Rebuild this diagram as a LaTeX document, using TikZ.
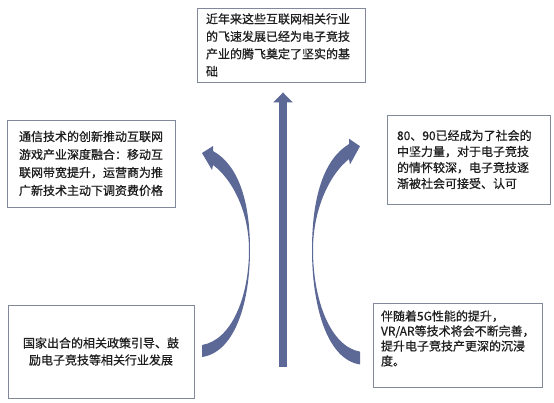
\documentclass[tikz,border=0pt]{standalone}
\usepackage{fontspec}
\setmainfont{Noto Sans CJK SC}[FakeBold=0.6]
\usetikzlibrary{arrows.meta}
\definecolor{arrowblue}{RGB}{92,104,150}
\definecolor{boxline}{RGB}{128,136,154}
\definecolor{txt}{RGB}{30,30,30}
\tikzset{
  box/.style={draw=boxline, line width=0.9pt, fill=white, inner sep=0pt, text=txt},
}
\begin{document}
\begin{tikzpicture}[x=1pt,y=-1pt]
  \useasboundingbox (0,0) rectangle (554,402);
  \draw
    (281,45) node[box, minimum width=168pt, minimum height=74pt, text width=150pt, align=left,
      font=\fontsize{12}{17.5}\selectfont] (0)
      {近年来这些互联网相关行业\\的飞速发展已经为电子竞技\\产业的腾飞奠定了坚实的基\\础}
    (91,163.5) node[box, minimum width=168pt, minimum height=87pt, text width=150pt, align=center,
      font=\fontsize{12}{18}\selectfont] (1)
      {通信技术的创新推动互联网\\游戏产业深度融合：移动互\\联网带宽提升，运营商为推\\广新技术主动下调资费价格}
    (468.5,159.5) node[box, minimum width=163pt, minimum height=89pt, text width=143pt, align=left,
      font=\fontsize{12}{16}\selectfont] (2)
      {80、90已经成为了社会的\\中坚力量，对于电子竞技\\的情怀较深，电子竞技逐\\渐被社会可接受、认可}
    (101,351.5) node[box, minimum width=186pt, minimum height=93pt, text width=170pt, align=center,
      font=\fontsize{12}{17}\selectfont] (3)
      {国家出合的相关政策引导、鼓\\励电子竞技等相关行业发展}
    (457.5,345) node[box, minimum width=169pt, minimum height=84pt, text width=153pt, align=left,
      font=\fontsize{12}{15}\selectfont] (4)
      {伴随着5G性能的提升，\\VR/AR等技术将会不断完善，\\提升电子竞技产更深的沉浸\\度。\rule[-14pt]{0pt}{14pt}};
  % straight arrow up to the top box
  \coordinate (c) at (283,367);
  \draw[arrowblue, line width=8pt, -{Triangle[width=19pt,length=10pt]}]
    (c) -- ([xshift=2pt,yshift=-10pt]0.south);
  % curved arrows
  \fill[arrowblue]
    (202,357) .. controls (236,352) and (250,300) .. (250,250)
    .. controls (250,200) and (238,165) .. (213,151)
    -- (213,146) -- (202,153) -- (212,170) -- (213,165)
    .. controls (231,178) and (249,210) .. (249,250)
    .. controls (249,296) and (232,340) .. (202,345) -- cycle;
  \begin{scope}[shift={(562,250)}, xscale=-1, yscale=1.07, shift={(0,-250)}]
    \fill[arrowblue]
      (202,357) .. controls (236,352) and (250,300) .. (250,250)
      .. controls (250,200) and (238,165) .. (213,151)
      -- (213,146) -- (202,153) -- (212,170) -- (213,165)
      .. controls (231,178) and (249,210) .. (249,250)
      .. controls (249,296) and (232,340) .. (202,345) -- cycle;
  \end{scope}
\end{tikzpicture}
\end{document}
